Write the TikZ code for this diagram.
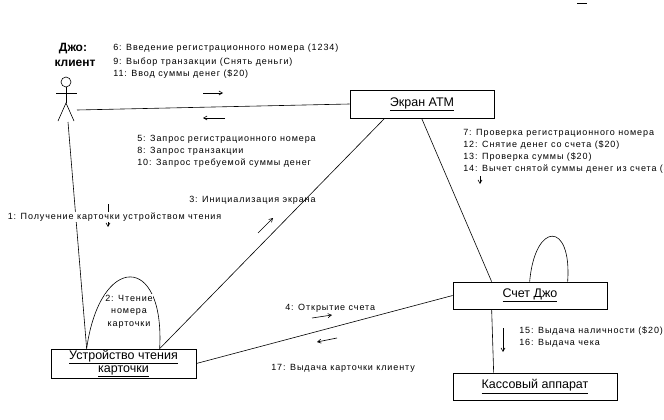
\documentclass[tikz,border=0pt]{standalone}
\usepackage{fontspec}
\setmainfont{Liberation Sans}
\newfontfamily\lblfont[LetterSpace=10]{Liberation Sans}
\usetikzlibrary{calc,arrows.meta}
\begin{document}
\begin{tikzpicture}[x=1pt,y=-1pt,
  every path/.style={line width=0.6pt},
  obj/.style={draw,line width=0.7pt,minimum width=#1,minimum height=28pt,inner sep=0pt,font=\fontsize{12.5}{14.5}\selectfont,align=center},
  lbl/.style={anchor=base west,inner sep=0pt,font=\lblfont\fontsize{9}{11}\selectfont},
  msg/.style={-{Straight Barb[length=3.5pt,width=4pt]},line width=0.6pt},
  conn/.style={line width=0.6pt}]
\useasboundingbox (0,0) rectangle (664,420);
% objects
\node[obj=144pt,minimum height=28pt] (atm) at (422,104) {\underline{Экран АТМ}};
\node[obj=145pt,minimum height=29pt] (reader) at (123.5,363.5) {\underline{Устройство чтения}\\[-1pt]\underline{карточки}};
\node[obj=154pt,minimum height=27pt] (acct) at (530,295.5) {\underline{Счет Джо}};
\node[obj=164pt,minimum height=27pt] (cash) at (535,386.5) {\underline{Кассовый аппарат}};
% actor
\draw (66,82) circle (5);
\draw (66,87) -- (66,103);
\draw (56,93) -- (77,93);
\draw (58,121) -- (66,103) -- (74,121);
\coordinate (actR) at (77,110);
\coordinate (actB) at (68,122);
\node[font=\bfseries\fontsize{12}{14}\selectfont,inner sep=0pt,anchor=base] (actname) at (73,52) {Джо:};
\node[font=\bfseries\fontsize{12}{14}\selectfont,inner sep=0pt,anchor=base] (actname2) at (75,66.5) {клиент};
% connectors
\draw[conn] (actR) -- (atm.west);
\draw[conn] (actB) -- ($(reader.north west)+(36,0)$);
\draw[conn] ($(atm.south west)+(35,0)$) -- ($(reader.north west)+(109,0)$);
\draw[conn] ($(atm.south west)+(72,0)$) -- ($(acct.north west)+(39,0)$);
\draw[conn] (reader.east) -- (acct.west);
\draw[conn] ($(acct.south west)+(39,0)$) -- ($(cash.north west)+(41,0)$);
% self loops
\draw[conn] ($(reader.north west)+(36,0)$) .. controls (100,253) and (165,253) .. ($(reader.north west)+(109,0)$);
\draw[conn] ($(acct.north west)+(77,0)$) .. controls (535,221) and (572,221) .. ($(acct.north west)+(115,0)$);
% message arrows
\draw[msg] (203,93) -- (223,93);
\draw[msg] (225,118) -- (203,118);
\draw[msg] (108,204) -- (108,227);
\draw[msg] (258,233) -- (273,218);
\draw[msg] (312,318) -- (332,315);
\draw[msg] (337,338) -- (317,342);
\draw[msg] (503,328) -- (503,352);
\draw[msg] (480,176) -- (480,184);
\draw (577,3) -- (587,3);
% labels
\node[lbl] (m6) at (113,51) {6: Введение регистрационного номера (1234)};
\node[lbl] (m9) at (113,64.5) {9: Выбор транзакции (Снять деньги)};
\node[lbl] (m11) at (113,76.5) {11: Ввод суммы денег (\$20)};
\node[lbl] (m5) at (137,141.5) {5: Запрос регистрационного номера};
\node[lbl] (m8) at (137,153) {8: Запрос транзакции};
\node[lbl] (m10) at (137,165) {10: Запрос требуемой суммы денег};
\node[lbl] (m7) at (463,135.5) {7: Проверка регистрационного номера};
\node[lbl] (m12) at (463,147.5) {12: Снятие денег со счета (\$20)};
\node[lbl] (m13) at (463,159.5) {13: Проверка суммы (\$20)};
\node[lbl] (m14) at (463,171.5) {14: Вычет снятой суммы денег из счета (\$20)};
\node[lbl,fill=white,inner sep=0.5pt] (m1) at (7,219.5) {1: Получение карточки устройством чтения};
\node[lbl] (m3) at (189,202.5) {3: Инициализация экрана};
\node[lbl] (m4) at (285,310.5) {4: Открытие счета};
\node[lbl] (m17) at (271,370.5) {17: Выдача карточки клиенту};
\node[lbl] (m15) at (519,333.5) {15: Выдача наличности (\$20)};
\node[lbl] (m16) at (519,345.5) {16: Выдача чека};
\node[anchor=center,inner sep=0.5pt,fill=white,align=center,font=\lblfont\fontsize{9}{12.5}\selectfont] (m2) at (129,311.5) {2: Чтение\\номера\\карточки};
\end{tikzpicture}
\end{document}
